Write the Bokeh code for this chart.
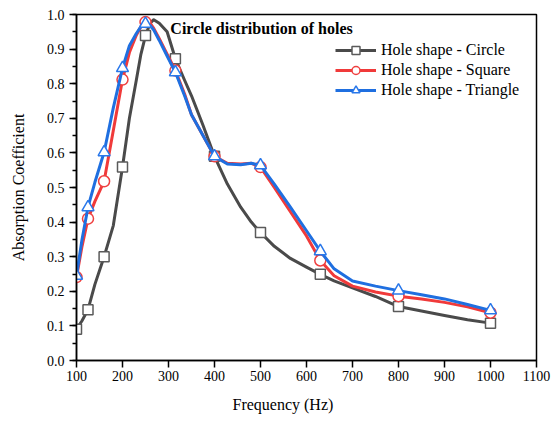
from bokeh.plotting import figure
from bokeh.models import Range1d, Label, Legend, LegendItem, Title, FixedTicker, CustomJSTickFormatter
from bokeh.embed import file_html
from bokeh.resources import INLINE

# marker data (1/3-octave centre frequencies)
freq_markers = [100, 125, 160, 200, 250, 315, 400, 500, 630, 800, 1000]
circle_markers = [0.090, 0.147, 0.300, 0.559, 0.939, 0.872, 0.590, 0.370, 0.249, 0.156, 0.108]
square_markers = [0.241, 0.410, 0.518, 0.812, 0.978, 0.838, 0.590, 0.559, 0.289, 0.186, 0.138]
triangle_markers = [0.245, 0.443, 0.602, 0.845, 0.973, 0.833, 0.590, 0.564, 0.316, 0.202, 0.145]

# curve data
freq_line = [100, 112, 125, 140, 160, 180, 200, 215, 230, 240, 250, 260, 268, 280, 297, 315, 335, 350,
             375, 400, 428, 457, 480, 500, 530, 565, 600, 630, 660, 700, 750, 800, 850, 900, 950, 1000]
circle_line = [0.090, 0.115, 0.147, 0.220, 0.300, 0.390, 0.559, 0.700, 0.810, 0.885, 0.939, 0.975, 0.985,
               0.975, 0.950, 0.872, 0.810, 0.765, 0.680, 0.590, 0.510, 0.443, 0.400, 0.370, 0.330, 0.295,
               0.270, 0.249, 0.230, 0.210, 0.185, 0.156, 0.143, 0.130, 0.118, 0.108]
square_line = [0.241, 0.330, 0.410, 0.460, 0.518, 0.665, 0.812, 0.890, 0.940, 0.965, 0.978, 0.975, 0.960,
               0.930, 0.885, 0.838, 0.770, 0.710, 0.650, 0.590, 0.570, 0.568, 0.570, 0.559, 0.500, 0.430,
               0.360, 0.289, 0.245, 0.215, 0.198, 0.186, 0.178, 0.168, 0.155, 0.138]
triangle_line = [0.245, 0.350, 0.443, 0.515, 0.602, 0.730, 0.845, 0.910, 0.945, 0.965, 0.973, 0.968, 0.955,
                 0.925, 0.880, 0.833, 0.765, 0.710, 0.650, 0.590, 0.568, 0.566, 0.570, 0.564, 0.510, 0.443,
                 0.375, 0.316, 0.265, 0.230, 0.215, 0.202, 0.190, 0.178, 0.162, 0.145]

series_names = ["Hole shape - Circle", "Hole shape - Square", "Hole shape - Triangle"]
x_ticks = [100, 200, 300, 400, 500, 600, 700, 800, 900, 1000, 1100]
y_ticks = [0.0, 0.1, 0.2, 0.3, 0.4, 0.5, 0.6, 0.7, 0.8, 0.9, 1.0]
y_minor = [0.0, 0.05, 0.1, 0.15, 0.2, 0.25, 0.3, 0.35, 0.4, 0.45, 0.5,
           0.55, 0.6, 0.65, 0.7, 0.75, 0.8, 0.85, 0.9, 0.95, 1.0]

SERIF = "Liberation Serif"

p = figure(width=555, height=423, output_backend="svg", toolbar_location=None,
           x_range=Range1d(100, 1100), y_range=Range1d(0, 1.0),
           min_border_left=76, min_border_right=19, min_border_top=14, min_border_bottom=63)
p.background_fill_color = "white"
p.border_fill_color = "white"
p.outline_line_color = "black"
p.outline_line_width = 1.5
p.xgrid.visible = False
p.ygrid.visible = False

# axes
p.xaxis.ticker = FixedTicker(ticks=x_ticks)
p.yaxis.ticker = FixedTicker(ticks=y_ticks, minor_ticks=y_minor)
p.yaxis.formatter = CustomJSTickFormatter(code="return tick.toFixed(1);")
for ax in (p.xaxis[0], p.yaxis[0]):
    ax.axis_line_color = "black"
    ax.axis_line_width = 1.5
    ax.major_tick_line_color = "black"
    ax.major_tick_line_width = 1.5
    ax.major_tick_out = 7
    ax.major_tick_in = 0
    ax.major_label_text_font = SERIF
    ax.major_label_text_font_size = "14px"
    ax.major_label_text_color = "black"
p.xaxis.minor_tick_line_color = None
p.yaxis.minor_tick_line_color = "black"
p.yaxis.minor_tick_line_width = 1.5
p.yaxis.minor_tick_out = 4
p.yaxis.minor_tick_in = 0
p.xaxis.major_label_standoff = 3
p.yaxis.major_label_standoff = 5

p.yaxis.axis_label = "Absorption Coefficient"
p.yaxis.axis_label_text_font = SERIF
p.yaxis.axis_label_text_font_size = "16px"
p.yaxis.axis_label_text_font_style = "normal"
p.yaxis.axis_label_text_color = "black"
p.yaxis.axis_label_standoff = 17

xlabel = Title(text="Frequency (Hz)", align="left", offset=156, text_font=SERIF,
               text_font_size="16px", text_font_style="normal", text_color="black", standoff=21)
p.add_layout(xlabel, "below")

# series
styles = [
    dict(line="#4a4a4a", marker="square", mcolor="#5a5a5a", size=10, lw=3),
    dict(line="#f03a3a", marker="circle", mcolor="#ef4040", size=11, lw=3),
    dict(line="#1f6fe0", marker="triangle", mcolor="#2a78ea", size=12, lw=3),
]
lines_y = [circle_line, square_line, triangle_line]
marks_y = [circle_markers, square_markers, triangle_markers]
items = []
for name, st, ly, my in zip(series_names, styles, lines_y, marks_y):
    r1 = p.line(freq_line, ly, line_color=st["line"], line_width=st["lw"], line_join="round")
    r2 = p.scatter(freq_markers, my, marker=st["marker"], size=st["size"],
                   line_color=st["mcolor"], fill_color="white", line_width=1.5)
    items.append(LegendItem(label=name, renderers=[r1, r2]))

legend = Legend(items=items, location=(259, 260), margin=0, padding=0, spacing=0,
                glyph_width=41, glyph_height=20, label_height=20, label_standoff=5,
                label_text_font=SERIF, label_text_font_size="16px", label_text_color="black",
                border_line_alpha=0, background_fill_alpha=0)
p.add_layout(legend, "center")

title = Label(x=304, y=0.96, text="Circle distribution of holes", text_font=SERIF,
              text_font_size="16px", text_font_style="bold", text_color="black",
              text_baseline="middle", text_align="left")
p.add_layout(title)

open("out.html", "w").write(file_html(p, INLINE))
